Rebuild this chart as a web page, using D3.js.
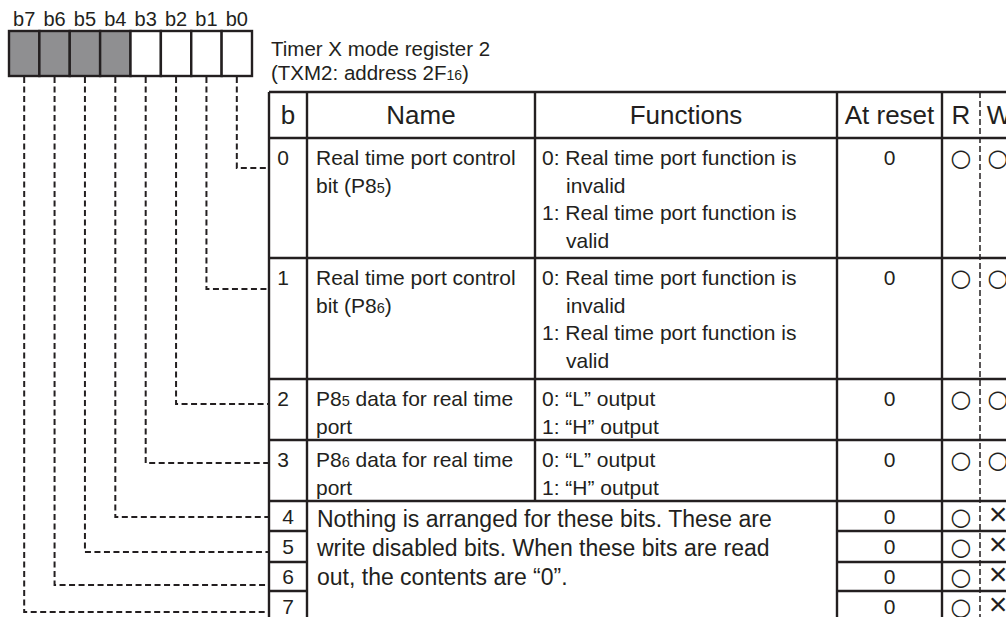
<!DOCTYPE html>
<html><head><meta charset="utf-8">
<script src="https://cdn.jsdelivr.net/npm/d3@7"></script>
<style>body{margin:0;background:#fff;overflow:hidden}</style>
</head><body>
<svg id="c" width="1006" height="617"></svg>
<script>
// ---------- data ----------
const bitLabels = ["b7","b6","b5","b4","b3","b2","b1","b0"];
const bitShaded = [true,true,true,true,false,false,false,false];
const titleLines = ["Timer X mode register 2","(TXM2: address 2F_16)"];
const headers = ["b","Name","Functions","At reset","R","W"];
const bitNumbers = ["0","1","2","3","4","5","6","7"];
const bitNames = [
  ["Real time port control","bit (P8_5)"],
  ["Real time port control","bit (P8_6)"],
  ["P8_5 data for real time","port"],
  ["P8_6 data for real time","port"]
];
const bitFunctions = [
  ["0: Real time port function is","invalid","1: Real time port function is","valid"],
  ["0: Real time port function is","invalid","1: Real time port function is","valid"],
  ["0: \u201cL\u201d output","1: \u201cH\u201d output"],
  ["0: \u201cL\u201d output","1: \u201cH\u201d output"]
];
const reservedNote = ["Nothing is arranged for these bits. These are","write disabled bits. When these bits are read","out, the contents are \u201c0\u201d."];
const resetValues = ["0","0","0","0","0","0","0","0"];
const readAccess = ["\u25cb","\u25cb","\u25cb","\u25cb","\u25cb","\u25cb","\u25cb","\u25cb"];
const writeAccess = ["\u25cb","\u25cb","\u25cb","\u25cb","\u00d7","\u00d7","\u00d7","\u00d7"];

// ---------- layout ----------
const INK = "#231f20";
const FONT = "'Liberation Sans', Arial, Helvetica, sans-serif";
const SYM = "'DejaVu Sans', sans-serif";
const svg = d3.select("#c");
const colEdges = [269,307,535,837,942,980,1018];
const headerTop = 92;
const rowEdges = [138,258,379,440,501,531,562,591,621];
const leaderY = [168,289,404,463,517,552,585,612];
const boxTop = 31, boxBottom = 76;
const bx = d3.scaleBand().domain(bitLabels).range([9,252]);
const rowY = d3.scaleOrdinal().domain(bitNumbers).range(rowEdges.slice(0,8));
const lineH = 27.5;

function richText(sel, str, size, subSize){
  const parts = str.split(/_(\d+)/);
  parts.forEach((p,i)=>{
    if(!p) return;
    sel.append("tspan").text(p).attr("font-size", i%2 ? subSize : size);
  });
}

// leaders
const gL = svg.append("g").attr("fill","none").attr("stroke",INK)
  .attr("stroke-width",2).attr("stroke-dasharray","6,3.5");
bitLabels.forEach((lab,i)=>{
  const bit = 7 - i;
  const x = bx(lab) + bx.bandwidth()/2;
  const y = leaderY[bit];
  gL.append("path").attr("d",`M${x},${boxBottom+1}V${y}H${colEdges[0]}`);
});

// register box
const gB = svg.append("g");
gB.selectAll("rect").data(bitLabels).join("rect")
  .attr("x",d=>bx(d)).attr("y",boxTop).attr("width",bx.bandwidth()).attr("height",boxBottom-boxTop)
  .attr("fill",(d,i)=>bitShaded[i]?"#8f8f91":"#fff").attr("stroke",INK).attr("stroke-width",2.4);
gB.selectAll("text").data(bitLabels).join("text")
  .attr("x",d=>bx(d)+bx.bandwidth()/2).attr("y",26).attr("text-anchor","middle")
  .attr("font-family",FONT).attr("font-size",20).attr("fill",INK).text(d=>d);

// title
titleLines.forEach((t,i)=>{
  const tx = svg.append("text").attr("x",271).attr("y",56+i*24).attr("font-family",FONT).attr("fill",INK);
  richText(tx,t,20.5,14);
});

// table lines
const gT = svg.append("g").attr("stroke",INK).attr("stroke-width",2.4).attr("fill","none");
const bottom = rowEdges[8];
[headerTop, rowEdges[0], rowEdges[1], rowEdges[2], rowEdges[3], rowEdges[4]].forEach(y=>{
  gT.append("line").attr("x1",colEdges[0]).attr("x2",colEdges[6]).attr("y1",y).attr("y2",y);
});
[rowEdges[5],rowEdges[6],rowEdges[7]].forEach(y=>{
  gT.append("line").attr("x1",colEdges[0]).attr("x2",colEdges[1]).attr("y1",y).attr("y2",y);
  gT.append("line").attr("x1",colEdges[3]).attr("x2",colEdges[6]).attr("y1",y).attr("y2",y);
});
[0,1,3,4,6].forEach(c=>{
  gT.append("line").attr("x1",colEdges[c]).attr("x2",colEdges[c]).attr("y1",headerTop).attr("y2",bottom);
});
gT.append("line").attr("x1",colEdges[2]).attr("x2",colEdges[2]).attr("y1",headerTop).attr("y2",rowEdges[4]);
svg.append("line").attr("x1",colEdges[5]).attr("x2",colEdges[5]).attr("y1",headerTop).attr("y2",bottom)
  .attr("stroke",INK).attr("stroke-width",1.5).attr("stroke-dasharray","6,3");

// header
const hc = d3.pairs(colEdges).map(([a,b])=>(a+b)/2);
svg.append("g").selectAll("text").data(headers).join("text")
  .attr("x",(d,i)=>hc[i]).attr("y",124).attr("text-anchor","middle")
  .attr("font-family",FONT).attr("font-size",26).attr("fill",INK).text(d=>d);

// rows
const gR = svg.append("g").attr("font-family",FONT).attr("fill",INK);
const BODY = 21;
bitNumbers.forEach((n,i)=>{
  const top = rowY(n), bot = rowEdges[i+1];
  const detailed = i < bitNames.length;
  const yc = detailed ? top + 27 : (top+bot)/2 + 7.5;
  gR.append("text").attr("x",detailed ? hc[0]-5 : hc[0]).attr("y",yc).attr("text-anchor","middle").attr("font-size",BODY).text(n);
  gR.append("text").attr("x",hc[3]).attr("y",yc).attr("text-anchor","middle").attr("font-size",BODY).text(resetValues[i]);
  gR.append("text").attr("x",hc[4]).attr("y",yc+1).attr("text-anchor","middle")
    .attr("font-family",SYM).attr("font-size",24).text(readAccess[i]);
  const w = writeAccess[i];
  const isX = w === "\u00d7";
  gR.append("text").attr("x",hc[5]-1).attr("y",yc+1).attr("text-anchor","middle")
    .attr("font-family", isX ? FONT : SYM)
    .attr("font-size", isX ? 32 : 24).text(w);
  if(detailed){
    bitNames[i].forEach((t,k)=>{
      const tx = gR.append("text").attr("x",colEdges[1]+9).attr("y",yc+k*lineH);
      richText(tx,t,BODY,14.5);
    });
    bitFunctions[i].forEach((t,k)=>{
      const ind = /^\d:/.test(t) ? 0 : 24;
      gR.append("text").attr("x",colEdges[2]+7+ind).attr("y",yc+k*lineH).attr("font-size",BODY).text(t);
    });
  }
});
reservedNote.forEach((t,k)=>{
  gR.append("text").attr("x",colEdges[1]+10).attr("y",rowEdges[4]+26+k*29).attr("font-size",23).text(t);
});
</script>
</body></html>
